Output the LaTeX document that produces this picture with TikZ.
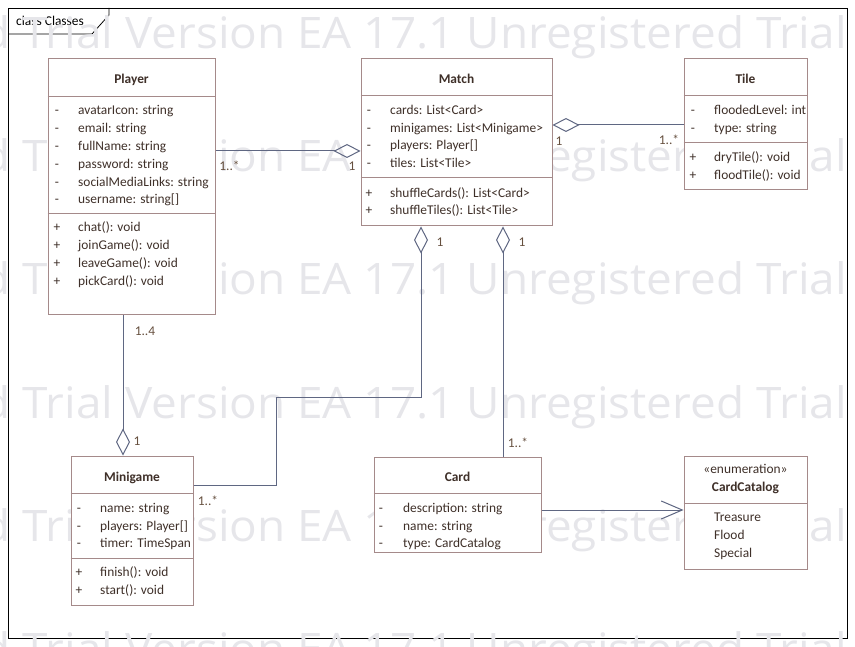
\documentclass[tikz,border=0pt]{standalone}
\usepackage{fontspec}
\setmainfont{Carlito}
\newfontfamily\wmfam{Open Sans}
\usetikzlibrary{arrows.meta,calc}
\definecolor{txt}{HTML}{3F3029}
\definecolor{bord}{HTML}{A58A8A}
\definecolor{conn}{HTML}{5F6782}
\definecolor{lbl}{HTML}{66503F}
\definecolor{wmc}{HTML}{E6E6EA}
\newcommand\wmfont{\wmfam\fontsize{43.4}{52}\selectfont}
\newcommand\wmline{Unregistered Trial Version EA 17.1 Unregistered Trial}
\newlength\wmA
\newlength\wmB
\AtBeginDocument{%
  \settowidth\wmA{\wmfont Trial Version EA 17.1 Unregistered Trial}%
  \settowidth\wmB{\wmfont\wmline}}
\tikzset{
  cls/.style={draw=bord, line width=1pt, fill=white, inner sep=0pt, rectangle},
  sepline/.style={draw=bord, line width=1pt},
  ln/.style={draw=conn, line width=1pt},
  agg/.style={-{Diamond[open,length=27pt,width=14pt]}},
  opn/.style={-{Straight Barb[length=21pt,width=18pt]}},
  dfont/.style={font=\fontsize{13.4}{16}\selectfont},
  tx/.style={dfont, text=txt, inner sep=0pt, anchor=base west},
  vis/.style={dfont, text=txt, inner sep=0pt, anchor=base},
  ttl/.style={font=\fontsize{13.4}{16}\selectfont\bfseries, text=txt, inner sep=0pt, anchor=base},
  lab/.style={dfont, text=lbl, inner sep=0pt, anchor=base},
  wmk/.style={text=wmc, inner sep=0pt, anchor=base east},
}
\begin{document}
\begin{tikzpicture}[x=1pt,y=-1pt]
\useasboundingbox (0,0) rectangle (855,647);
% frame
\draw[black, line width=0.8pt] (8,8) rectangle (847,638);
\draw[black, line width=0.8pt] (8,34) -- (92,34) -- (109,15) -- (109,8);
\node[dfont, text=black, inner sep=0pt, anchor=base west] (framelabel) at (16,25.5) {class Classes};
% watermark
\pgfmathsetmacro\wmfull{824/\wmA*\wmB}
\begin{scope}
\clip (0,0) rectangle (855,647);
\foreach \yy [count=\i] in {49,172,295,418,541,664}{
  \node[wmk] (wm\i) at (847,\yy) {\resizebox{\wmfull pt}{\height}{\wmfont\wmline}};
}
\end{scope}
% class boxes
\node[cls, minimum width=167pt, minimum height=256pt] (player) at (131.5,187) {};
\node[cls, minimum width=191pt, minimum height=167pt] (match) at (456.5,142.5) {};
\node[cls, minimum width=123pt, minimum height=131pt] (tile) at (745.5,124.5) {};
\node[cls, minimum width=122pt, minimum height=149pt] (minigame) at (132,530.5) {};
\node[cls, minimum width=167pt, minimum height=95pt] (card) at (457.5,504.5) {};
\node[cls, minimum width=123pt, minimum height=113pt] (cardcat) at (745.5,512.5) {};
% compartments
\draw[sepline] (player.west |- 0,97) -- (player.east |- 0,97);
\draw[sepline] (player.west |- 0,214) -- (player.east |- 0,214);
\draw[sepline] (match.west |- 0,96) -- (match.east |- 0,96);
\draw[sepline] (match.west |- 0,178) -- (match.east |- 0,178);
\draw[sepline] (tile.west |- 0,96) -- (tile.east |- 0,96);
\draw[sepline] (tile.west |- 0,143) -- (tile.east |- 0,143);
\draw[sepline] (minigame.west |- 0,493) -- (minigame.east |- 0,493);
\draw[sepline] (minigame.west |- 0,558) -- (minigame.east |- 0,558);
\draw[sepline] (card.west |- 0,493) -- (card.east |- 0,493);
\draw[sepline] (cardcat.west |- 0,503) -- (cardcat.east |- 0,503);
% Player
\node[ttl] (playerT) at (131.5,83.5) {Player};
\foreach \s/\t [count=\i] in {-/{avatarIcon: string},-/{email: string},-/{fullName: string},-/{password: string},-/{socialMediaLinks: string},-/{username: string[]}}{
  \node[vis] (pav\i) at (57,{114.5+17.9*(\i-1)}) {\s};
  \node[tx] (pat\i) at (78,{114.5+17.9*(\i-1)}) {\t};
}
\foreach \t [count=\i] in {{chat(): void},{joinGame(): void},{leaveGame(): void},{pickCard(): void}}{
  \node[vis] (pov\i) at (57,{231.5+18*(\i-1)}) {+};
  \node[tx] (pot\i) at (78,{231.5+18*(\i-1)}) {\t};
}
% Match
\node[ttl] (matchT) at (456.5,83.5) {Match};
\foreach \t [count=\i] in {{cards: List<Card>},{minigames: List<Minigame>},{players: Player[]},{tiles: List<Tile>}}{
  \node[vis] (mav\i) at (369,{114.5+17.7*(\i-1)}) {-};
  \node[tx] (mat\i) at (390,{114.5+17.7*(\i-1)}) {\t};
}
\foreach \t [count=\i] in {{shuffleCards(): List<Card>},{shuffleTiles(): List<Tile>}}{
  \node[vis] (mov\i) at (369,{197.5+17.5*(\i-1)}) {+};
  \node[tx] (mot\i) at (390,{197.5+17.5*(\i-1)}) {\t};
}
% Tile
\node[ttl] (tileT) at (745.5,83.5) {Tile};
\foreach \t [count=\i] in {{floodedLevel: int},{type: string}}{
  \node[vis] (tav\i) at (693,{114.5+18*(\i-1)}) {-};
  \node[tx] (tat\i) at (714,{114.5+18*(\i-1)}) {\t};
}
\foreach \t [count=\i] in {{dryTile(): void},{floodTile(): void}}{
  \node[vis] (tov\i) at (693,{161.5+18*(\i-1)}) {+};
  \node[tx] (tot\i) at (714,{161.5+18*(\i-1)}) {\t};
}
% Minigame
\node[ttl] (minigameT) at (132,481.5) {Minigame};
\foreach \t [count=\i] in {{name: string},{players: Player[]},{timer: TimeSpan}}{
  \node[vis] (gav\i) at (79,{512.5+17.5*(\i-1)}) {-};
  \node[tx] (gat\i) at (100,{512.5+17.5*(\i-1)}) {\t};
}
\foreach \t [count=\i] in {{finish(): void},{start(): void}}{
  \node[vis] (gov\i) at (79,{576.5+17.5*(\i-1)}) {+};
  \node[tx] (got\i) at (100,{576.5+17.5*(\i-1)}) {\t};
}
% Card
\node[ttl] (cardT) at (457.5,481.5) {Card};
\foreach \t [count=\i] in {{description: string},{name: string},{type: CardCatalog}}{
  \node[vis] (cav\i) at (381,{512.5+17.5*(\i-1)}) {-};
  \node[tx] (cat\i) at (403,{512.5+17.5*(\i-1)}) {\t};
}
% CardCatalog
\node[vis] (cardcatS) at (745.5,473.5) {«enumeration»};
\node[ttl] (cardcatT) at (745.5,491.5) {CardCatalog};
\foreach \t [count=\i] in {Treasure,Flood,Special}{
  \node[tx] (lit\i) at (714,{521.5+18*(\i-1)}) {\t};
}
% connectors
\draw[ln, agg] (player.east |- 0,151) -- (match.west |- 0,151);
\draw[ln, agg] (tile.west |- 0,125) -- (match.east |- 0,125);
\draw[ln, agg] (minigame.east |- 0,485) -| (276,397) -| (match.south -| 421,0);
\draw[ln, agg] (card.north -| 503,0) -- (match.south -| 503,0);
\draw[ln, agg] (player.south -| 123,0) -- (minigame.north -| 123,0);
\draw[ln, opn] (card.east |- 0,510) -- (cardcat.west |- 0,510);
% multiplicities
\node[lab] (m1) at (229.5,171) {1..*};
\node[lab] (m2) at (352,171) {1};
\node[lab] (m3) at (559,145.5) {1};
\node[lab] (m4) at (669,145) {1..*};
\node[lab] (m5) at (440,246.5) {1};
\node[lab] (m6) at (522,246.5) {1};
\node[lab] (m7) at (145,336) {1..4};
\node[lab] (m8) at (137,445) {1};
\node[lab] (m9) at (208,505) {1..*};
\node[lab] (m10) at (518,447) {1..*};
\end{tikzpicture}
\end{document}
